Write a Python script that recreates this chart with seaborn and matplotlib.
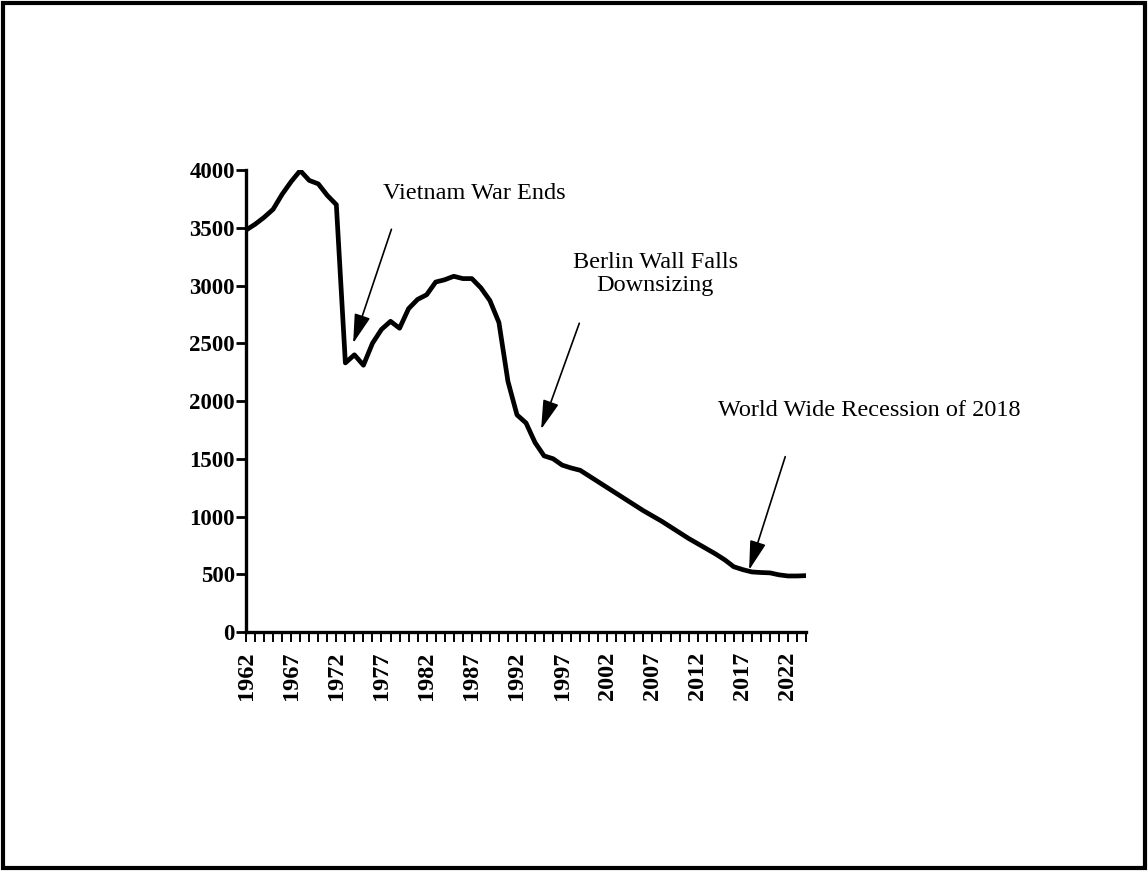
import matplotlib
matplotlib.use("Agg")
import matplotlib.pyplot as plt
import seaborn as sns
import pandas as pd
from matplotlib.patches import Rectangle

years = list(range(1962, 2025))
values = [3480, 3530, 3590, 3660, 3790, 3900, 3995, 3910, 3880, 3780, 3700,
          2330, 2400, 2310, 2500, 2620, 2690, 2630, 2800, 2880, 2920, 3030,
          3050, 3080, 3060, 3060, 2980, 2870, 2680, 2170, 1880, 1810, 1640,
          1525, 1500, 1445, 1420, 1400, 1350, 1300, 1250, 1200, 1150, 1100,
          1050, 1005, 960, 910, 860, 810, 765, 720, 675, 625, 565, 540, 520,
          515, 512, 495, 485, 485, 488]
label_years = list(range(1962, 2023, 5))
y_ticks = [0, 500, 1000, 1500, 2000, 2500, 3000, 3500, 4000]

events = ["Vietnam War Ends", "Berlin Wall Falls\nDownsizing", "World Wide Recession of 2018"]

df = pd.DataFrame({"year": years, "value": values})

sns.set_style("white")
plt.rcParams["font.family"] = ["Liberation Serif", "DejaVu Serif"]
plt.rcParams["text.color"] = "black"
plt.rcParams["xtick.color"] = "black"
plt.rcParams["ytick.color"] = "black"
plt.rcParams["xtick.labelcolor"] = "black"
plt.rcParams["ytick.labelcolor"] = "black"

fig = plt.figure(figsize=(11.48, 8.71), dpi=100)
ax = fig.add_axes([0.2143, 0.2744, 0.4878, 0.5304])

sns.lineplot(data=df, x="year", y="value", color="black", linewidth=3.4, ax=ax)

ax.set_xlim(1962, 2024)
ax.set_ylim(0, 4000)
ax.set_xlabel("")
ax.set_ylabel("")

for s in ["top", "right"]:
    ax.spines[s].set_visible(False)
for s in ["left", "bottom"]:
    ax.spines[s].set_linewidth(2.4)
    ax.spines[s].set_color("black")

ax.set_yticks(y_ticks)
ax.set_yticklabels([str(v) for v in y_ticks], fontsize=16.5, fontweight="bold", color="black")
ax.tick_params(axis="y", direction="out", length=7, width=2, pad=1, left=True, colors="black")

ax.set_xticks(label_years)
ax.set_xticklabels([str(y) for y in label_years], rotation=90, fontsize=17.5,
                   fontweight="bold", color="black")
ax.set_xticks(years, minor=True)
ax.tick_params(axis="x", which="both", direction="out", length=7, width=1.4, pad=7,
               bottom=True, colors="black")

arrow_kw = dict(arrowstyle="-|>,head_length=0.9,head_width=0.25", mutation_scale=20,
                lw=1.2, color="black", shrinkA=0, shrinkB=0)

# Vietnam
ax.annotate("", xy=(1973.86, 2500), xytext=(1978.1, 3487), arrowprops=arrow_kw)
ax.text(1987.3, 3801, events[0], ha="center", va="center", fontsize=17.5,
        color="black", clip_on=False)
# Berlin
ax.annotate("", xy=(1994.67, 1755), xytext=(1998.9, 2673), arrowprops=arrow_kw)
ax.text(2007.3, 3100, events[1], ha="center", va="center", fontsize=17.5,
        color="black", linespacing=1.15, clip_on=False)
# Recession
ax.annotate("", xy=(2017.7, 537), xytext=(2021.7, 1518), arrowprops=arrow_kw,
            annotation_clip=False)
ax.text(2031.0, 1922, events[2], ha="center", va="center", fontsize=17.5,
        color="black", clip_on=False)

# outer frame
fig.patches.append(Rectangle((0.003, 0.004), 0.994, 0.992, transform=fig.transFigure,
                             fill=False, edgecolor="black", linewidth=3))

fig.savefig("out.png", dpi=100)
